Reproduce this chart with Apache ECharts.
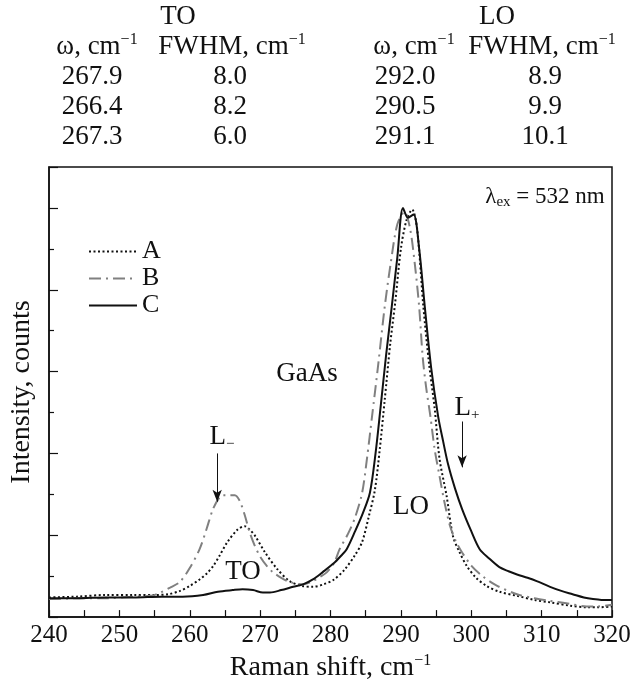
<!DOCTYPE html>
<html>
<head>
<meta charset="utf-8">
<script src="https://cdn.jsdelivr.net/npm/echarts@6/dist/echarts.min.js"></script>
<style>
  html, body { margin: 0; padding: 0; background: #fff; }
  #chart { width: 635px; height: 687px; }
</style>
</head>
<body>
<div id="chart"></div>
<script>
// fitted peak parameters (table above the plot)
const toOmega = ['267.9', '266.4', '267.3'];
const toFwhm = ['8.0', '8.2', '6.0'];
const loOmega = ['292.0', '290.5', '291.1'];
const loFwhm = ['8.9', '9.9', '10.1'];

const seriesNames = ['A', 'B', 'C'];

// spectrum A (dotted)
const xA = [240, 244, 248, 252, 255, 257, 258.6, 260, 261.4, 262.5, 263.3, 264.3, 265.3, 266.8, 267.8, 268.5, 269.3, 270.7, 272.4, 274.2, 276, 277.5, 279, 280.5, 282, 283.5, 284.5, 285.5, 286.3, 287, 287.7, 288.5, 289.2, 290, 290.8, 291.6, 292.3, 293.2, 294, 294.8, 295.5, 296.5, 297.4, 298.3, 299.4, 300.7, 302.2, 304, 306.5, 309, 311.2, 314, 316.4, 318, 320];
const yA = [0.24, 0.25, 0.27, 0.27, 0.27, 0.28, 0.32, 0.38, 0.46, 0.54, 0.62, 0.76, 0.91, 1.07, 1.11, 1.07, 0.99, 0.79, 0.59, 0.44, 0.38, 0.37, 0.40, 0.46, 0.58, 0.76, 0.92, 1.25, 1.55, 2.05, 2.65, 3.35, 3.85, 4.5, 4.85, 4.98, 4.75, 3.79, 3.1, 2.55, 1.93, 1.48, 0.99, 0.8, 0.62, 0.48, 0.38, 0.31, 0.26, 0.21, 0.18, 0.14, 0.12, 0.12, 0.13];

// spectrum B (dash-dot)
const xB = [240, 244, 248, 252, 254.5, 255.8, 257.2, 258.6, 260, 261.4, 262.4, 263.3, 264.2, 264.7, 265.5, 266.4, 267.1, 267.8, 268.5, 269.2, 270, 271, 271.8, 273, 274.2, 276.1, 277.5, 278.5, 279.5, 280.5, 281.3, 282.5, 283.5, 284.5, 285.2, 285.9, 286.8, 287.7, 288.6, 289.5, 290.5, 291.3, 292, 292.6, 293.1, 293.6, 294.2, 294.8, 295.5, 296.2, 297, 297.8, 298.7, 300, 301.6, 303.5, 306.5, 309, 311, 313.5, 316.4, 318, 320];
const yB = [0.22, 0.23, 0.23, 0.25, 0.26, 0.3, 0.36, 0.43, 0.6, 0.83, 1.08, 1.32, 1.46, 1.49, 1.49, 1.49, 1.42, 1.25, 1.04, 0.88, 0.74, 0.62, 0.55, 0.48, 0.43, 0.40, 0.44, 0.49, 0.55, 0.66, 0.83, 1.02, 1.22, 1.52, 1.95, 2.45, 3.1, 3.79, 4.35, 4.8, 4.95, 4.75, 4.3, 3.79, 3.18, 2.8, 2.45, 2.05, 1.72, 1.4, 1.11, 0.93, 0.79, 0.63, 0.5, 0.39, 0.28, 0.23, 0.2, 0.17, 0.13, 0.13, 0.15];

// spectrum C (solid)
const xC = [240, 244, 248, 252, 256, 259, 261.9, 264, 266.1, 267.5, 269, 270.4, 271.4, 273, 274.7, 276.1, 277.5, 278.9, 280.5, 281.5, 282.3, 283.5, 284.6, 285.6, 286.4, 287.1, 287.9, 288.7, 289.5, 290.3, 291, 291.8, 292.6, 293.4, 294.3, 295.3, 296, 296.7, 297.7, 298.7, 300, 301.2, 302.5, 304, 305.3, 306.5, 308, 309.3, 311.2, 312.8, 314.4, 316, 317.3, 318.5, 320];
const yC = [0.23, 0.23, 0.24, 0.24, 0.25, 0.25, 0.27, 0.31, 0.33, 0.34, 0.33, 0.30, 0.30, 0.33, 0.37, 0.40, 0.46, 0.55, 0.66, 0.75, 0.83, 1.05, 1.27, 1.52, 2.0, 2.55, 3.2, 3.79, 4.4, 5.0, 4.88, 4.92, 4.5, 3.79, 3.05, 2.45, 2.15, 1.87, 1.57, 1.32, 1.05, 0.83, 0.72, 0.61, 0.56, 0.52, 0.48, 0.44, 0.37, 0.32, 0.28, 0.24, 0.22, 0.21, 0.21];

const serif = 'Liberation Serif';
const zip = (xs, ys) => xs.map((x, i) => [x, ys[i]]);

const rich = {
  n: { fontFamily: serif, fontSize: 27, color: '#111', lineHeight: 30 },
  m: { fontFamily: serif, fontSize: 23, color: '#111', lineHeight: 26 },
  sup: { fontFamily: serif, fontSize: 16, color: '#111', verticalAlign: 'top', lineHeight: 16 },
  sub: { fontFamily: serif, fontSize: 15, color: '#111', verticalAlign: 'bottom', lineHeight: 15 }
};

function txt(text, x, y, align) {
  return {
    type: 'text', x: x, y: y,
    style: { text: text, rich: rich, align: align || 'center', verticalAlign: 'middle', fill: '#111' }
  };
}

const rowY = [77, 107, 137];
const graphics = [
  txt('{n|TO}', 178, 17),
  txt('{n|LO}', 497, 17),
  txt('{n|ω, cm}{sup|−1}', 97, 47),
  txt('{n|FWHM, cm}{sup|−1}', 232, 47),
  txt('{n|ω, cm}{sup|−1}', 414, 47),
  txt('{n|FWHM, cm}{sup|−1}', 542, 47),
  txt('{m|λ}{sub|ex}{m| = 532 nm}', 545, 197),
  txt('{n|GaAs}', 307, 374),
  txt('{n|L}{sub|−}', 222, 437),
  txt('{n|TO}', 243, 572),
  txt('{n|LO}', 411, 507),
  txt('{n|L}{sub|+}', 467, 408)
];
rowY.forEach((y, i) => {
  graphics.push(txt('{n|' + toOmega[i] + '}', 92, y));
  graphics.push(txt('{n|' + toFwhm[i] + '}', 230, y));
  graphics.push(txt('{n|' + loOmega[i] + '}', 405, y));
  graphics.push(txt('{n|' + loFwhm[i] + '}', 545, y));
});

const chart = echarts.init(document.getElementById('chart'));

const option = {
  backgroundColor: '#fff',
  animation: false,
  grid: { left: 49, right: 23, top: 167, bottom: 69, show: true, borderColor: '#111', borderWidth: 1.5 },
  legend: {
    orient: 'vertical',
    left: 83,
    top: 233,
    itemWidth: 48,
    itemHeight: 12,
    itemGap: 0,
    data: seriesNames,
    itemStyle: { opacity: 0 },
    textStyle: { fontFamily: serif, fontSize: 26, color: '#111', lineHeight: 27 }
  },
  xAxis: {
    type: 'value',
    min: 240,
    max: 320,
    interval: 5,
    name: '{x|Raman shift, cm}{sup|−1}',
    nameLocation: 'middle',
    nameGap: 32,
    nameTextStyle: {
      rich: Object.assign({ x: { fontFamily: serif, fontSize: 28, color: '#111', lineHeight: 30 } }, rich)
    },
    axisLine: { lineStyle: { color: '#111', width: 1.5 } },
    axisTick: { inside: true, length: 7, lineStyle: { color: '#111', width: 1.2 } },
    axisLabel: {
      margin: 6,
      fontFamily: serif,
      fontSize: 25,
      color: '#111',
      formatter: v => (v % 10 === 0 ? String(v) : '')
    },
    splitLine: { show: false }
  },
  yAxis: {
    type: 'value',
    min: 0,
    max: 5.5,
    interval: 1,
    name: 'Intensity, counts',
    nameLocation: 'middle',
    nameGap: 13,
    nameTextStyle: { fontFamily: serif, fontSize: 28, color: '#111' },
    axisLine: { lineStyle: { color: '#111', width: 1.5 } },
    axisTick: { inside: true, length: 9, lineStyle: { color: '#111', width: 1.2 } },
    minorTick: { show: true, splitNumber: 2, length: 5, lineStyle: { color: '#111', width: 1.2 } },
    axisLabel: { show: false },
    splitLine: { show: false },
    minorSplitLine: { show: false }
  },
  series: [
    {
      name: 'A', type: 'line', symbol: 'none', smooth: 0.3,
      data: zip(xA, yA),
      itemStyle: { color: '#111' },
      lineStyle: { color: '#111', width: 2, type: [2, 2.5] }
    },
    {
      name: 'B', type: 'line', symbol: 'none', smooth: 0.3,
      data: zip(xB, yB),
      itemStyle: { color: '#808080' },
      lineStyle: { color: '#808080', width: 2, type: [12, 5, 2, 5] }
    },
    {
      name: 'C', type: 'line', symbol: 'none', smooth: 0.3,
      data: zip(xC, yC),
      itemStyle: { color: '#111' },
      lineStyle: { color: '#111', width: 2 },
      markLine: {
        silent: true,
        symbol: ['none', 'arrow'],
        symbolSize: [7, 12],
        label: { show: false },
        lineStyle: { color: '#111', width: 1, type: 'solid' },
        data: [
          [{ coord: [263.9, 2.0] }, { coord: [263.9, 1.41] }],
          [{ coord: [298.7, 2.39] }, { coord: [298.7, 1.83] }]
        ]
      }
    }
  ],
  graphic: graphics
};

chart.setOption(option);
</script>
</body>
</html>
